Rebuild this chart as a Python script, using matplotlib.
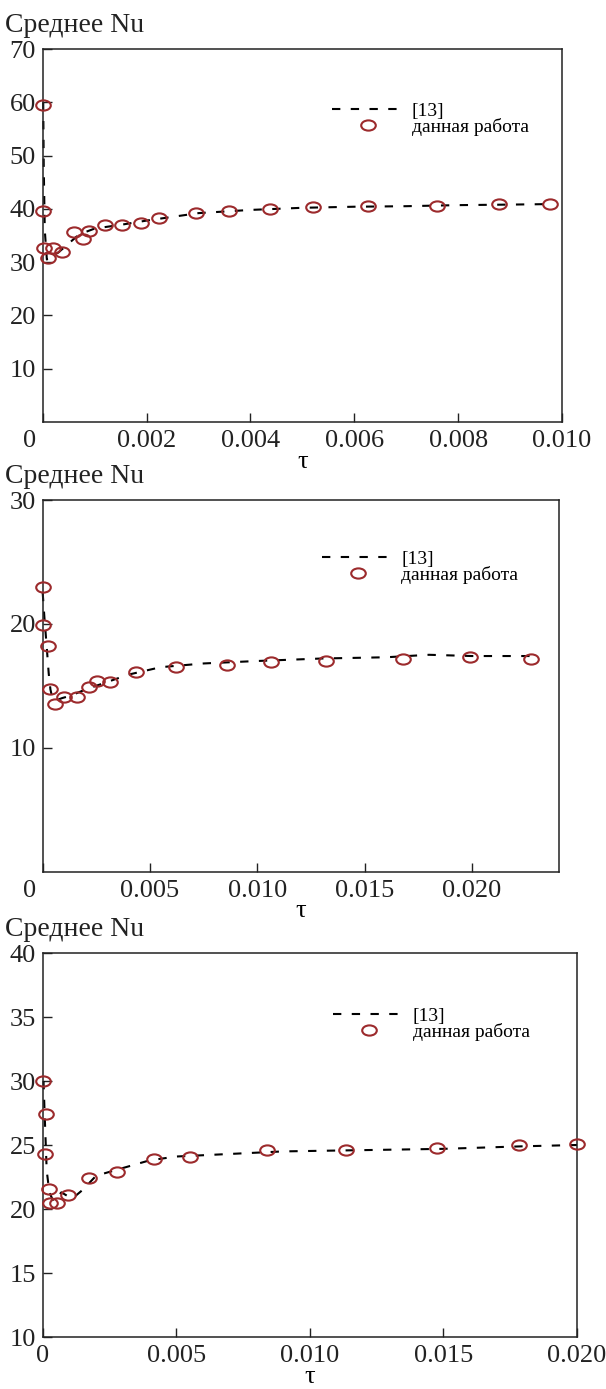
import numpy as np
import matplotlib
matplotlib.use('Agg')
import matplotlib.pyplot as plt
from matplotlib.path import Path
from matplotlib.lines import Line2D
from matplotlib.transforms import ScaledTranslation

plt.rcParams['font.family'] = ['Liberation Serif', 'DejaVu Serif']

# ---- data: panel 1 ----
tau1 = [0.0, 0.00001, 0.00002, 0.0001, 0.0002, 0.00038, 0.00061, 0.00078, 0.0009,
        0.0012, 0.00152, 0.0019, 0.00224, 0.00296, 0.00358, 0.00438, 0.0052,
        0.00626, 0.0076, 0.00878, 0.00977]
nu1 = [59.5, 39.6, 32.6, 30.7, 32.6, 31.9, 35.7, 34.3, 35.9, 37.0, 36.9, 37.3,
       38.3, 39.3, 39.6, 40.0, 40.3, 40.5, 40.6, 40.9, 40.9]
ref1_tau = [0.00001, 0.00002, 0.00004, 0.00008, 0.00015, 0.0003, 0.0005, 0.0007,
            0.001, 0.0015, 0.002, 0.003, 0.004, 0.005, 0.006, 0.007, 0.008, 0.009, 0.0098]
ref1_nu = [60, 48, 36, 30.5, 31.0, 31.8, 33.5, 35.2, 36.3, 37.0, 37.8, 39.2,
           39.8, 40.2, 40.4, 40.5, 40.7, 40.8, 40.9]

# ---- data: panel 2 ----
tau2 = [0.0, 0.00003, 0.00026, 0.00034, 0.00057, 0.00099, 0.00161, 0.00216, 0.00254,
        0.00314, 0.00435, 0.00621, 0.00857, 0.01063, 0.0132, 0.0168, 0.0199, 0.02276]
nu2 = [23.0, 19.9, 18.2, 14.7, 13.5, 14.1, 14.1, 14.9, 15.4, 15.3, 16.1, 16.5,
       16.7, 16.95, 17.0, 17.2, 17.3, 17.2]
ref2_tau = [0.0, 0.00008, 0.00018, 0.00028, 0.00036, 0.00045, 0.0006, 0.0009, 0.0013,
            0.002, 0.003, 0.004, 0.0055, 0.0075, 0.010, 0.013, 0.016, 0.018, 0.020, 0.0228]
ref2_nu = [22.5, 20.5, 18.3, 16.0, 14.7, 14.0, 13.8, 14.0, 14.2, 14.7, 15.3, 15.9,
           16.5, 16.8, 17.0, 17.2, 17.3, 17.5, 17.4, 17.4]

# ---- data: panel 3 ----
tau3 = [0.0, 0.00012, 0.0001, 0.00025, 0.00027, 0.00055, 0.00094, 0.00175, 0.00278,
        0.00415, 0.0055, 0.0084, 0.01137, 0.01475, 0.01784, 0.020]
nu3 = [30.0, 27.4, 24.3, 21.6, 20.5, 20.5, 21.1, 22.4, 22.9, 23.9, 24.1, 24.6,
       24.6, 24.8, 25.0, 25.05]
ref3_tau = [0.00003, 0.00008, 0.00015, 0.00025, 0.0004, 0.0007, 0.0011, 0.0015, 0.002,
            0.003, 0.004, 0.005, 0.007, 0.009, 0.012, 0.015, 0.018, 0.020]
ref3_nu = [30, 27, 23, 21.3, 20.6, 21.3, 20.8, 21.5, 22.6, 23.2, 23.8, 24.1, 24.3,
           24.5, 24.6, 24.7, 24.9, 25.0]

YLABEL = 'Среднее Nu'
XLABEL = 'τ'
LEG_REF = '[13]'
LEG_OURS = 'данная работа'

MARK_COLOR = '#9c2a2c'
DASH = (0, (4.0, 5.0))
W, H = 606, 1389

# ellipse marker (wider than tall)
circ = Path.unit_circle()
ellipse = Path(circ.vertices * np.array([1.0, 0.7]), circ.codes)

panels = [
    # (tau, nu, ref_tau, ref_nu, xlim, ylim, xticks, yticks, box px (l, t, r, b), shift0, legpos)
    (tau1, nu1, ref1_tau, ref1_nu, (0, 0.010), (0, 70),
     [0, 0.002, 0.004, 0.006, 0.008, 0.010], [10, 20, 30, 40, 50, 60, 70],
     (42.7, 49, 562, 422), True, (0.557, 0.857)),
    (tau2, nu2, ref2_tau, ref2_nu, (0, 0.02406), (0, 30),
     [0, 0.005, 0.010, 0.015, 0.020], [10, 20, 30],
     (42.7, 500, 559, 871.5), True, (0.54, 0.864)),
    (tau3, nu3, ref3_tau, ref3_nu, (0, 0.020), (10, 40),
     [0, 0.005, 0.010, 0.015, 0.020], [10, 15, 20, 25, 30, 35, 40],
     (42.7, 953, 577, 1337), False, (0.543, 0.858)),
]

fig = plt.figure(figsize=(W / 100, H / 100), dpi=100)

for (tau, nu, rt, rn, xlim, ylim, xt, yt, box, shift0, legpos) in panels:
    l, t, r, b = box
    ax = fig.add_axes([l / W, 1 - b / H, (r - l) / W, (b - t) / H])

    ax.plot(rt, rn, color='black', lw=1.5, linestyle=DASH, clip_on=False, zorder=2)
    ax.plot(tau, nu, linestyle='none', marker=ellipse, markersize=10.5,
            mfc='none', mec=MARK_COLOR, mew=1.5, clip_on=False, zorder=3)

    ax.set_xlim(*xlim)
    ax.set_ylim(*ylim)
    ax.set_xticks(xt)
    ax.set_xticklabels(['0'] + ['{:.3f}'.format(v) for v in xt[1:]])
    ax.set_yticks(yt)
    ax.set_yticklabels([str(v) for v in yt])

    for s in ['top', 'right', 'left', 'bottom']:
        ax.spines[s].set_linewidth(1.1)
        ax.spines[s].set_color('#222222')
    ax.tick_params(direction='in', length=6.5, width=1.0, labelsize=19,
                   top=False, right=False, colors='#222222')
    ax.tick_params(axis='x', pad=6)
    ax.tick_params(axis='y', pad=5)

    ax.set_xlabel(XLABEL, fontsize=19, labelpad=-1)
    ax.text(5 / W, 1 - (t - 17) / H, YLABEL, transform=fig.transFigure,
            fontsize=20, ha='left', va='baseline', color='#222222')

    if shift0:
        ticks = ax.xaxis.get_major_ticks()
        lab = ticks[0].label1
        lab.set_transform(lab.get_transform() +
                          ScaledTranslation(-0.135, 0, fig.dpi_scale_trans))

    h_ref = Line2D([], [], color='black', lw=1.5, linestyle=DASH)
    h_pts = Line2D([], [], linestyle='none', marker=ellipse, markersize=10.5,
                   mfc='none', mec=MARK_COLOR, mew=1.5)
    ax.legend([h_ref, h_pts], [LEG_REF, LEG_OURS], loc='upper left',
              bbox_to_anchor=legpos, frameon=False, fontsize=14,
              handlelength=3.75, handletextpad=0.35, labelspacing=-0.1,
              borderpad=0, borderaxespad=0, numpoints=1)

fig.savefig('out.png', dpi=100)
